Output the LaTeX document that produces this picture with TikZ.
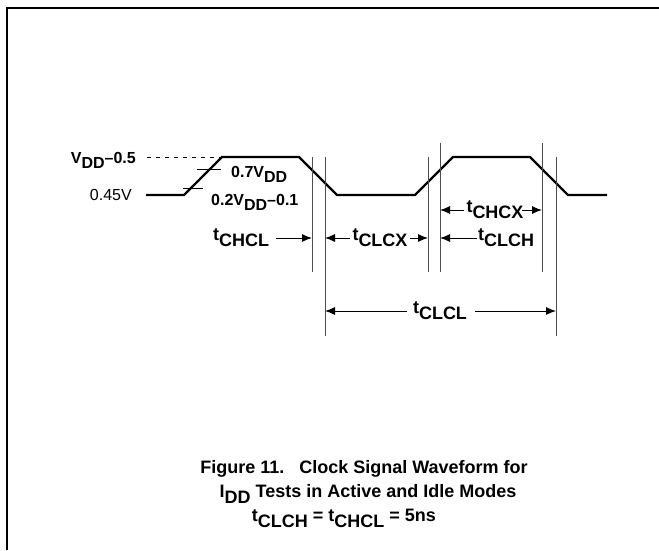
\documentclass[tikz,border=0pt]{standalone}
\usepackage{fontspec}
\setmainfont{Liberation Sans}
\usetikzlibrary{arrows.meta}
\newcommand{\lowsub}[1]{\raisebox{-0.33em}{#1}}
\tikzset{
  wave/.style={line width=2.2pt, line join=miter},
  guide/.style={draw=black!70, line width=0.9pt},
  vtick/.style={line width=0.8pt},
  dimarrow/.style={line width=1pt, -{Latex[length=10pt,width=8pt]}},
  lbl/.style={font=\fontsize{16}{18}\selectfont\bfseries, inner sep=0pt},
  tlbl/.style={font=\fontsize{18}{20}\selectfont\bfseries, inner sep=0pt},
  caption/.style={font=\fontsize{18}{20}\selectfont\bfseries, inner sep=0pt},
}

\begin{document}
\begin{tikzpicture}[x=1pt,y=-1pt]
      \useasboundingbox (0,0) rectangle (659,550);
      % Frame
      \draw[line width=2.5pt] (7,550) -- (7,8) -- (659,8);

      % Clock waveform
      \draw[wave] (146,195) -- (184,195) -- (222,157) -- (299,157) -- (337,195)
        -- (415,195) -- (453,157) -- (530,157) -- (568,195) -- (607,195);
      \draw[line width=0.8pt, dash pattern=on 4pt off 5pt] (147,157) -- (220,157);
      \draw[vtick] (197,169) -- (221,169);
      \draw[vtick] (183,188) -- (203,188);

      % Level labels
      \node[lbl, anchor=base east] (vhigh) at (136,163) {V\lowsub{DD}--0.5};
      \node[inner sep=0pt, font=\fontsize{16}{18}\selectfont, anchor=base east] (vlow) at (132,200) {0.45V};
      \node[lbl, anchor=base west] (vih) at (231,177) {0.7V\lowsub{DD}};
      \node[lbl, anchor=base west] (vil) at (211,205) {0.2V\lowsub{DD}--0.1};

      % Timing guides
      \foreach \x/\top/\bot [count=\i] in {312/157/272, 325/157/336, 428/157/272,
          440/143/272, 542/143/272, 556/157/336}
        \draw[guide] (\x,\top) coordinate (g\i) -- (\x,\bot);

      % Timing labels
      \node[tlbl, anchor=west] (tchcl) at (213,238) {t\lowsub{CHCL}};
      \draw[dimarrow] ([xshift=7pt]tchcl.east) -- (tchcl.east -| g1);

      \node[tlbl] (tclcx) at (380,238) {t\lowsub{CLCX}};
      \draw[dimarrow] ([xshift=-2pt]tclcx.west) -- (tclcx.west -| g2);
      \draw[dimarrow] ([xshift=2pt]tclcx.east) -- (tclcx.east -| g3);

      \node[tlbl] (tchcx) at (495,210) {t\lowsub{CHCX}};
      \draw[dimarrow] ([xshift=-2pt]tchcx.west) -- (tchcx.west -| g4);
      \draw[dimarrow] ([xshift=-2pt]tchcx.east) -- (tchcx.east -| g5);

      \node[tlbl, anchor=west] (tclch) at (478,238) {t\lowsub{CLCH}};
      \draw[dimarrow] ([xshift=-1pt]tclch.west) -- (tclch.west -| g4);

      \node[tlbl] (tclcl) at (440,311) {t\lowsub{CLCL}};
      \draw[dimarrow] ([xshift=-6pt]tclcl.west) -- (tclcl.west -| g2);
      \draw[dimarrow] ([xshift=8pt]tclcl.east) -- (tclcl.east -| g6);

      % Caption
      \node[caption] (cap1) at (364,469) {Figure 11.\ \ \ Clock Signal Waveform for};
      \node[caption] (cap2) at (368,494) {I\lowsub{DD} Tests in Active and Idle Modes};
      \node[caption] (cap3) at (344,518) {t\lowsub{CLCH} = t\lowsub{CHCL} = 5ns};
\end{tikzpicture}
\end{document}
